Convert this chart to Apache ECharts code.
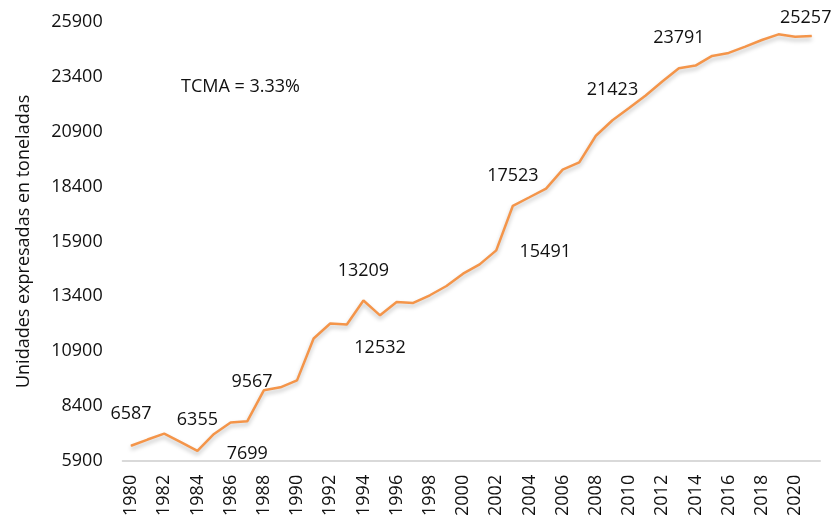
<!DOCTYPE html>
<html>
<head>
<meta charset="utf-8">
<script src="https://cdn.jsdelivr.net/npm/echarts@6/dist/echarts.min.js"></script>
<style>
    html, body { margin: 0; padding: 0; background: #fff; }
    #chart { width: 833px; height: 519px; }
</style>
</head>
<body>
<div id="chart"></div>
<script>
var years = ['1980','1981','1982','1983','1984','1985','1986','1987','1988','1989',
    '1990','1991','1992','1993','1994','1995','1996','1997','1998','1999',
    '2000','2001','2002','2003','2004','2005','2006','2007','2008','2009',
    '2010','2011','2012','2013','2014','2015','2016','2017','2018','2019',
    '2020','2021'];
var toneladas = [6587, 6870, 7141, 6750, 6355, 7127, 7650, 7699, 9113, 9250,
    9567, 11477, 12158, 12113, 13209, 12532, 13141, 13095, 13445, 13868,
    14430, 14854, 15491, 17523, 17913, 18308, 19171, 19504, 20717, 21423,
    21976, 22550, 23186, 23791, 23913, 24353, 24490, 24777, 25080, 25338,
    25232, 25257];
var yTicks = [5900, 8400, 10900, 13400, 15900, 18400, 20900, 23400, 25900];
var labeledYears = ['1980', '1984', '1987', '1990', '1994', '1995', '2002', '2003', '2009', '2013', '2021'];
var tcmaText = 'TCMA = 3.33%';

// desplazamiento de cada etiqueta respecto a su punto
var labelOffsets = {
    '1980': [0, -32], '1984': [0, -31], '1987': [0, 33], '1990': [-45, 2],
    '1994': [0, -30], '1995': [0, 33], '2002': [49, 1], '2003': [0, -30],
    '2009': [0, -30], '2013': [0, -30], '2021': [-6, -18]
};

var fontFamily = '"Open Sans", "Noto Sans", sans-serif';
var fontSize = 18;

var seriesData = toneladas.map(function (v, i) {
    var item = { value: v };
    if (labeledYears.indexOf(years[i]) >= 0) {
        item.label = {
            show: true,
            position: 'inside',
            offset: labelOffsets[years[i]],
            formatter: String(v)
        };
    }
    return item;
});

var myChart = echarts.init(document.getElementById('chart'));
var option = {
    animation: false,
    grid: { left: 122.7, right: 13, top: 22, bottom: 57 },
    xAxis: {
        type: 'category',
        data: years,
        boundaryGap: true,
        axisLine: { lineStyle: { color: '#d9d9d9', width: 2 } },
        axisTick: { show: false },
        axisLabel: {
            interval: 1,
            rotate: 90,
            margin: 14,
            color: '#111',
            fontSize: fontSize,
            fontFamily: fontFamily
        },
        splitLine: { show: false }
    },
    yAxis: {
        type: 'value',
        min: 5900,
        max: 25900,
        name: 'Unidades expresadas en toneladas',
        nameLocation: 'middle',
        nameRotate: 90,
        nameGap: 90,
        nameTextStyle: { color: '#111', fontSize: fontSize, fontFamily: fontFamily },
        axisLine: { show: false },
        axisTick: { show: false },
        splitLine: { show: false },
        axisLabel: {
            customValues: yTicks,
            formatter: function (v) { return String(v); },
            margin: 20,
            color: '#111',
            fontSize: fontSize,
            fontFamily: fontFamily
        }
    },
    graphic: [{
        type: 'text',
        left: 181,
        top: 78,
        style: { text: tcmaText, fill: '#111', fontSize: fontSize, fontFamily: fontFamily }
    }],
    series: [{
        type: 'line',
        data: seriesData,
        symbol: 'circle',
        symbolSize: 1,
        showSymbol: true,
        itemStyle: { color: '#F4954A' },
        lineStyle: {
            color: '#F4954A',
            width: 2.5,
            shadowColor: 'rgba(0,0,0,0.25)',
            shadowBlur: 4,
            shadowOffsetY: 3
        },
        label: { color: '#111', fontSize: fontSize, fontFamily: fontFamily },
        emphasis: { disabled: true }
    }]
};
myChart.setOption(option);
</script>
</body>
</html>
